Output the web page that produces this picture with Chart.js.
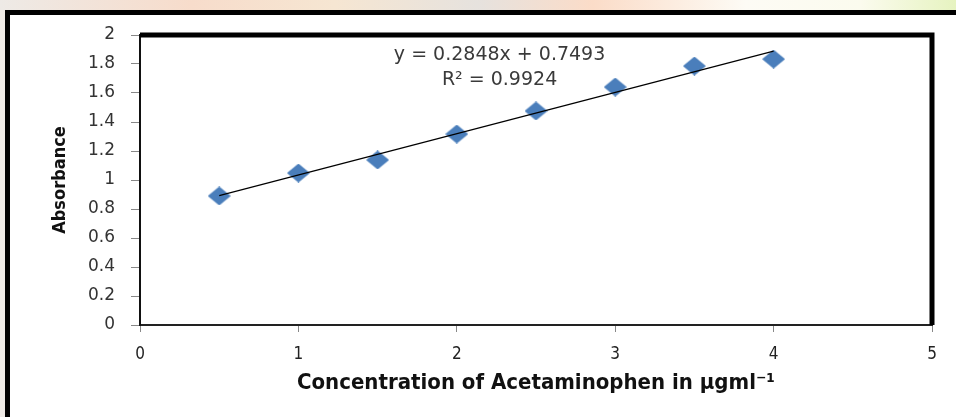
<!DOCTYPE html>
<html>
<head>
<meta charset="utf-8">
<script src="https://cdn.jsdelivr.net/npm/chart.js@4.4.1/dist/chart.umd.min.js"></script>
<style>
  html, body { margin: 0; padding: 0; }
  body {
    width: 956px; height: 417px; overflow: hidden; position: relative;
    background: linear-gradient(to right, #eeeae6 0%, #f7dccb 20%, #f6e6d2 35%, #e6e2de 50%, #fbdcc8 62%, #fdfbf5 78%, #fbfbee 90%, #e6f3c0 100%);
  }
  .frame {
    position: absolute; left: 5px; top: 10px; width: 1000px; height: 500px;
    background: #fff; border-left: 5px solid #000; border-top: 5px solid #000;
  }
  #wrap { position: absolute; left: 0; top: 0; width: 956px; height: 417px; }
</style>
</head>
<body>
<div class="frame"></div>
<div id="wrap"><canvas id="myChart"></canvas></div>
<script>
// ------------------------------------------------------------------ DATA
const concentration = [0.5, 1, 1.5, 2, 2.5, 3, 3.5, 4];
const absorbance = [0.89, 1.048, 1.138, 1.317, 1.476, 1.641, 1.786, 1.834];
const trendSlope = 0.2848;
const trendIntercept = 0.7493;
const trendRange = [0.5, 4];
const equationLines = ["y = 0.2848x + 0.7493", "R² = 0.9924"];
const xTitle = "Concentration of Acetaminophen in μgml⁻¹";
const yTitle = "Absorbance";

// ------------------------------------------------------------------ HELPERS
const points = concentration.map((c, i) => ({ x: c, y: absorbance[i] }));
const trendPoints = trendRange.map((x) => ({ x: x, y: trendSlope * x + trendIntercept }));

// a slightly flattened diamond marker, like the excel one
function makeDiamond(w, h, color) {
  const c = document.createElement("canvas");
  c.width = w;
  c.height = h;
  const g = c.getContext("2d");
  g.fillStyle = color;
  g.beginPath();
  g.moveTo(w / 2, 0);
  g.lineTo(w, h / 2);
  g.lineTo(w / 2, h);
  g.lineTo(0, h / 2);
  g.closePath();
  g.fill();
  return c;
}
const diamond = makeDiamond(23, 19, "#4a7ebb");

// thick top + right edges of the plot box, and the trendline label
const plotExtras = {
  id: "plotExtras",
  afterDatasetsDraw(chart) {
    const { ctx, chartArea, scales } = chart;
    ctx.save();
    ctx.strokeStyle = "#000";
    ctx.lineWidth = 5;
    ctx.beginPath();
    ctx.moveTo(chartArea.left, chartArea.top);
    ctx.lineTo(chartArea.right, chartArea.top);
    ctx.lineTo(chartArea.right, chartArea.bottom);
    ctx.stroke();

    ctx.fillStyle = "#3a3a3a";
    ctx.font = "19px 'DejaVu Sans'";
    ctx.textAlign = "center";
    ctx.textBaseline = "middle";
    const cx = scales.x.getPixelForValue(2.27);
    const cy = scales.y.getPixelForValue(1.86);
    ctx.fillText(equationLines[0], cx, cy);
    ctx.fillText(equationLines[1], cx, cy + 25);
    ctx.restore();
  },
};

// ------------------------------------------------------------------ CHART
const graph = document.querySelector("#myChart");
new Chart(graph, {
  type: "scatter",
  data: {
    datasets: [
      {
        type: "line",
        data: trendPoints,
        borderColor: "#000",
        borderWidth: 1.2,
        pointRadius: 0,
        fill: false,
      },
      {
        data: points,
        pointStyle: diamond,
        pointRadius: 10,
        backgroundColor: "#4a7ebb",
        borderColor: "#4a7ebb",
      },
    ],
  },
  options: {
    responsive: true,
    maintainAspectRatio: false,
    animation: false,
    layout: { padding: { left: 0, top: 35, right: 24, bottom: 0 } },
    plugins: { legend: { display: false }, tooltip: { enabled: false } },
    scales: {
      x: {
        type: "linear",
        min: 0,
        max: 5,
        afterFit(scale) { scale.height = 92; },
        ticks: {
          stepSize: 1,
          padding: 12,
          color: "#222",
          font: { family: "'DejaVu Sans Condensed', 'DejaVu Sans'", size: 17 },
        },
        grid: { drawOnChartArea: false, drawTicks: true, tickLength: 7, color: "#888" },
        border: { color: "#222", width: 2 },
        title: {
          display: true,
          text: xTitle,
          color: "#111",
          padding: { top: 0, bottom: 21 },
          font: { family: "'DejaVu Sans Condensed', 'DejaVu Sans'", size: 22, weight: "bold" },
        },
      },
      y: {
        min: 0,
        max: 2,
        afterFit(scale) { scale.width = 140; },
        ticks: {
          stepSize: 0.2,
          padding: 16,
          color: "#333",
          font: { family: "'DejaVu Sans'", size: 17 },
          callback: (v) => Math.round(v * 10) / 10,
        },
        grid: { drawOnChartArea: false, drawTicks: true, tickLength: 9, color: "#888" },
        border: { color: "#111", width: 2 },
        title: {
          display: true,
          text: yTitle,
          color: "#111",
          padding: { top: 50, bottom: 0 },
          font: { family: "'DejaVu Sans Condensed', 'DejaVu Sans'", size: 18, weight: "bold" },
        },
      },
    },
  },
  plugins: [plotExtras],
});
</script>
</body>
</html>
